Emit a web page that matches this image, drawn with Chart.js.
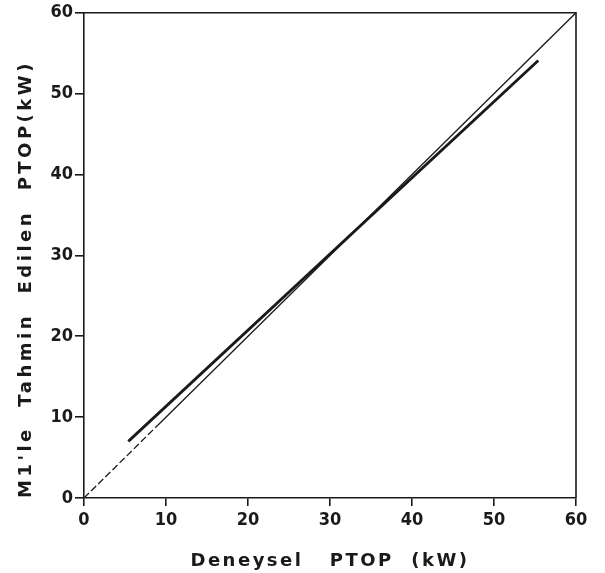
<!DOCTYPE html>
<html>
<head>
<meta charset="utf-8">
<script src="https://cdn.jsdelivr.net/npm/chart.js@4/dist/chart.umd.min.js"></script>
<style>
html,body{margin:0;padding:0;background:#fff;}
#wrap{width:605px;height:573px;}
</style>
</head>
<body>
<div id="wrap"><canvas id="c" width="605" height="573"></canvas></div>
<script>
const xTicks = [0, 10, 20, 30, 40, 50, 60];
const yTicks = [0, 10, 20, 30, 40, 50, 60];
const identityX = [0, 9, 60];
const identityY = [0, 9, 60];
const fitX = [5.4, 55.4];
const fitY = [7.0, 54.1];
const xTitle = "Deneysel   PTOP  (kW)";
const yTitle = "M1'le  Tahmin  Edilen  PTOP(kW)";

const ink = '#1a1a1a';
const tickFont = {family: "'DejaVu Sans Condensed', 'DejaVu Sans'", size: 18, weight: 'bold'};

// wider letter spacing for the axis titles only
const origDrawTitle = Chart.Scale.prototype.drawTitle;
Chart.Scale.prototype.drawTitle = function () {
  const ctx = this.ctx;
  const prev = ctx.letterSpacing;
  ctx.letterSpacing = this.axis === 'y' ? '3.5px' : '2.5px';
  origDrawTitle.apply(this, arguments);
  ctx.letterSpacing = prev || '0px';
};

const frame = {
  id: 'frame',
  afterDatasetsDraw(chart) {
    const a = chart.chartArea, ctx = chart.ctx;
    ctx.save();
    ctx.strokeStyle = ink;
    ctx.lineWidth = 1.6;
    ctx.beginPath();
    ctx.moveTo(a.left, a.top);
    ctx.lineTo(a.right, a.top);
    ctx.lineTo(a.right, a.bottom);
    ctx.stroke();
    ctx.restore();
  }
};

new Chart(document.getElementById('c'), {
  type: 'scatter',
  data: {
    datasets: [
      {
        data: identityX.map((x, i) => ({x, y: identityY[i]})),
        showLine: true, borderColor: ink, borderWidth: 1.3, pointRadius: 0,
        segment: {borderDash: ctx => ctx.p0DataIndex === 0 ? [7, 3] : undefined}
      },
      {
        data: fitX.map((x, i) => ({x, y: fitY[i]})),
        showLine: true, borderColor: ink, borderWidth: 2.8, pointRadius: 0
      }
    ]
  },
  options: {
    responsive: false,
    animation: false,
    layout: {padding: {top: 10, right: 29, left: 0, bottom: 0}},
    plugins: {legend: {display: false}, tooltip: {enabled: false}},
    scales: {
      x: {
        type: 'linear', min: 0, max: 60,
        afterBuildTicks: s => { s.ticks = xTicks.map(v => ({value: v})); },
        afterFit: s => { s.height = 75; },
        grid: {drawOnChartArea: false, drawTicks: true, tickLength: 8, color: ink, lineWidth: 1.6},
        border: {display: true, color: ink, width: 1.6},
        ticks: {color: ink, padding: 4, maxRotation: 0, font: tickFont},
        title: {display: true, text: xTitle, color: ink, padding: {top: 4, bottom: 1}, font: {family: 'DejaVu Sans', size: 18, weight: 'bold'}}
      },
      y: {
        type: 'linear', min: 0, max: 60,
        afterBuildTicks: s => { s.ticks = yTicks.map(v => ({value: v})); },
        afterFit: s => { s.width = 84; },
        grid: {drawOnChartArea: false, drawTicks: true, tickLength: 9, color: ink, lineWidth: 1.6},
        border: {display: true, color: ink, width: 1.6},
        ticks: {color: ink, padding: 2, font: tickFont},
        title: {display: true, text: yTitle, align: 'start', color: ink, padding: {top: 16, bottom: 0}, font: {family: 'DejaVu Sans', size: 18, weight: 'bold'}}
      }
    }
  },
  plugins: [frame]
});
</script>
</body>
</html>
